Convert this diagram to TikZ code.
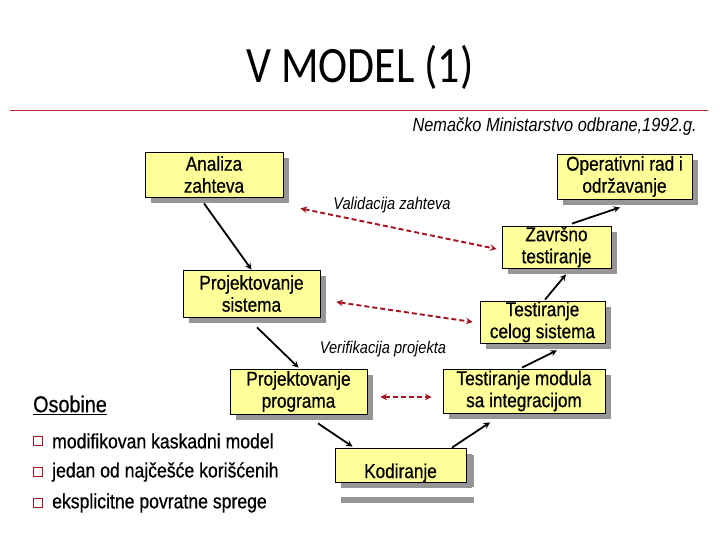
\documentclass[tikz,border=0pt]{standalone}
\usepackage{fontspec}
\setmainfont[FakeStretch=0.86,FakeBold=0.6]{Liberation Sans}
\newfontfamily\tagfont[FakeStretch=0.86]{Liberation Sans}
\newfontfamily\titlefont[FakeStretch=0.86]{Carlito}
\usetikzlibrary{shadows}
\definecolor{boxyellow}{RGB}{255,255,153}
\definecolor{shadowgray}{RGB}{150,150,150}
\definecolor{linkred}{RGB}{165,20,30}
\definecolor{rulered}{RGB}{185,45,45}
\tikzset{
  phase/.style={draw=black, fill=boxyellow, line width=0.8pt, align=center,
    inner sep=0pt, font=\fontsize{20}{22}\selectfont,
    drop shadow={shadow xshift=6pt, shadow yshift=-6pt, fill=shadowgray, opacity=1}},
  flow/.style={-stealth, line width=1.8pt},
  check/.style={stealth-stealth, draw=linkred, line width=1.9pt, dash pattern=on 5pt off 3pt},
  tag/.style={font=\fontsize{17}{19}\selectfont\tagfont\itshape},
  point/.style={anchor=west, font=\fontsize{20.5}{22}\selectfont, inner sep=0pt},
  bulletbox/.style={draw=linkred, fill=white, line width=1.5pt, minimum size=9pt, inner sep=0pt}
}
\begin{document}
\begin{tikzpicture}[x=1pt,y=-1pt]
  \useasboundingbox[fill=white] (0,0) rectangle (720,540);
  % title
  \node[font=\fontsize{51}{56}\selectfont\titlefont] (title) at (360,67) {V MODEL (1)};
  \draw[rulered, line width=0.8pt] (10,110) -- (708,110);
  \node[anchor=east, font=\fontsize{19}{21}\selectfont\tagfont\itshape, inner sep=0pt] (source) at (697,127) {Nemačko Ministarstvo odbrane,1992.g.};
  % phases
  \node[phase, minimum width=138pt, minimum height=45pt] (anal) at (214,174.5) {Analiza\\zahteva};
  \node[phase, minimum width=135pt, minimum height=45pt] (oper) at (624.5,176.5) {Operativni rad i\\održavanje};
  \node[phase, minimum width=109pt, minimum height=42pt] (zavr) at (556.5,247) {Završno\\testiranje};
  \node[phase, minimum width=137pt, minimum height=47pt] (psis) at (251.5,293.5) {Projektovanje\\sistema};
  \node[phase, minimum width=125pt, minimum height=42pt] (tcel) at (542.5,322) {Testiranje\\celog sistema};
  \node[phase, minimum width=137pt, minimum height=45pt] (pprog) at (298.5,391.5) {Projektovanje\\programa};
  \node[phase, minimum width=162pt, minimum height=44pt] (tmod) at (524,391) {Testiranje modula\\sa integracijom};
  \fill[shadowgray] (341,497) rectangle (474,503);
  \fill[shadowgray] (466,455) rectangle (474,487);
  \node[phase, drop shadow={opacity=0}, minimum width=131pt, minimum height=34pt,
    text height=28pt, text depth=2pt] (kod) at (400.5,465) {Kodiranje};
  % development and testing flow
  \draw[flow] ([xshift=-10pt,yshift=-6pt]anal.south) -- (psis.north);
  \draw[flow] ([xshift=5.5pt,yshift=-10pt]psis.south) -- ([yshift=1pt]pprog.north);
  \draw[flow] ([xshift=19.5pt,yshift=-9pt]pprog.south) -- ([xshift=-48pt,yshift=1pt]kod.north);
  \draw[flow] ([xshift=51.5pt]kod.north) -- ([xshift=-34pt,yshift=-9pt]tmod.south);
  \draw[flow] ([xshift=-2pt,yshift=1pt]tmod.north) -- ([xshift=14.5pt,yshift=-7pt]tcel.south);
  \draw[flow] ([xshift=2.5pt,yshift=1pt]tcel.north) -- ([xshift=9.5pt,yshift=-6pt]zavr.south);
  \draw[flow] ([xshift=15.5pt,yshift=2pt]zavr.north) -- ([xshift=-4.5pt,yshift=-8pt]oper.south);
  % validation and verification
  \draw[check] ([xshift=17pt,yshift=-11pt]anal.south east) -- ([xshift=-5pt,yshift=-2pt]zavr.west);
  \draw[check] ([xshift=16pt,yshift=-8.5pt]psis.east) -- ([xshift=-7pt]tcel.west);
  \draw[check] ([xshift=13pt,yshift=-5.5pt]pprog.east) -- ([xshift=-11pt,yshift=-6pt]tmod.west);
  \node[tag] (valid) at (392,205) {Validacija zahteva};
  \node[tag] (verif) at (383,349) {Verifikacija projekta};
  % properties
  \node[anchor=west, inner sep=0pt, font=\fontsize{23}{25}\selectfont] (props) at (33,405) {\underline{Osobine}};
  \node[bulletbox] (b1) at (38,441) {};
  \node[point] (p1) at (52,441) {modifikovan kaskadni model};
  \node[bulletbox] (b2) at (38,472) {};
  \node[point] (p2) at (52,472) {jedan od najčešće korišćenih};
  \node[bulletbox] (b3) at (38,503) {};
  \node[point] (p3) at (52,503) {eksplicitne povratne sprege};
\end{tikzpicture}
\end{document}
